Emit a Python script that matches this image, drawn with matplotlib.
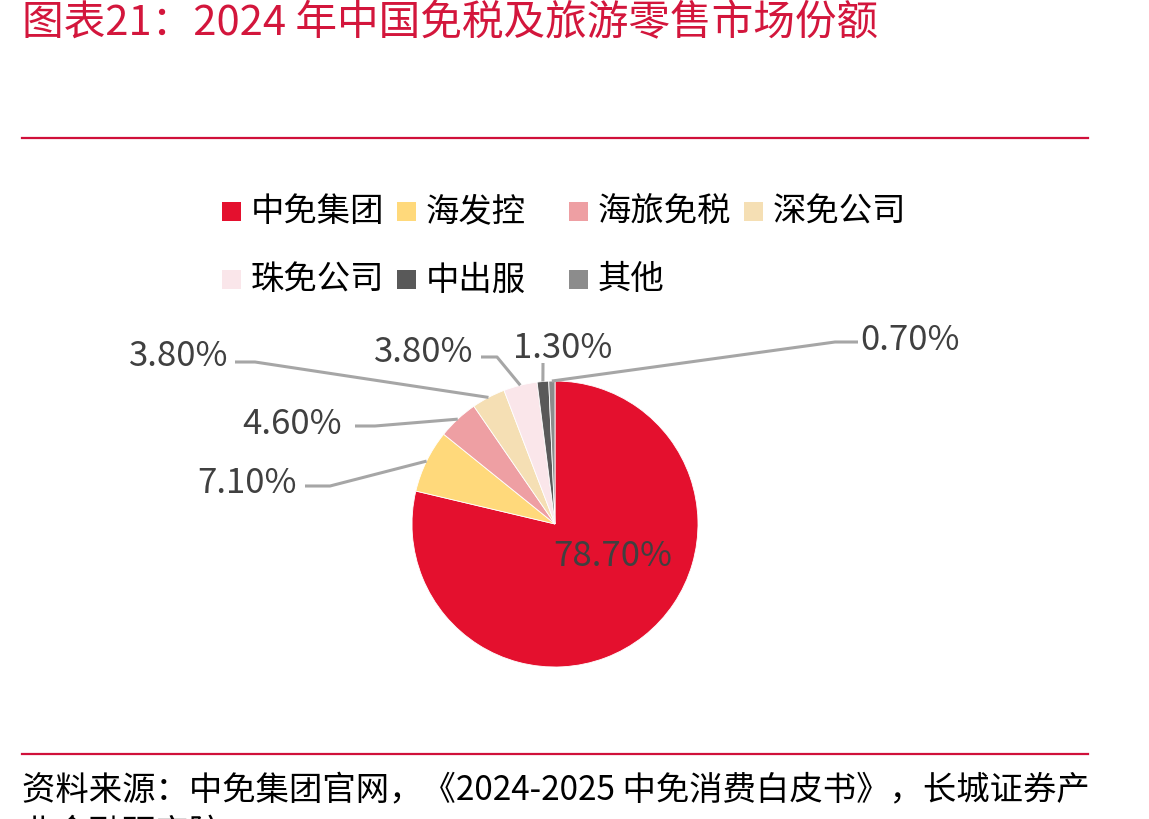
import matplotlib
matplotlib.use("Agg")
import matplotlib.pyplot as plt
from matplotlib.lines import Line2D
from matplotlib.patches import Rectangle
import numpy as np

categories = ["中免集团", "海发控", "海旅免税", "深免公司", "珠免公司", "中出服", "其他"]
values = [78.7, 7.1, 4.6, 3.8, 3.8, 1.3, 0.7]
colors = ["#E4102E", "#FFD97B", "#EE9FA3", "#F5DFB4", "#FAE6EA", "#595959", "#8C8C8C"]

title = "图表21：2024 年中国免税及旅游零售市场份额"
source_line1 = "资料来源：中免集团官网，《2024-2025 中免消费白皮书》，长城证券产"
source_line2 = "业金融研究院"

W, H = 1149, 820
CJK = ["Noto Sans CJK SC", "DejaVu Sans"]
plt.rcParams["font.family"] = CJK

fig = plt.figure(figsize=(W / 100, H / 100), dpi=100)


def fx(x):
    return x / W


def fy(y):
    return 1 - y / H


# title, rules, footer
fig.text(fx(22), fy(24), title, fontsize=30, color="#D3163C", va="center", ha="left")
for yy in (139, 755):
    fig.add_artist(Line2D([fx(22), fx(1088)], [fy(yy), fy(yy)], color="#D0103A", lw=1.6,
                          transform=fig.transFigure))
fig.text(fx(22), fy(790), source_line1, fontsize=24, color="black", va="center", ha="left")
fig.text(fx(22), fy(833), source_line2, fontsize=24, color="black", va="center", ha="left")

# legend (manual grid)
leg_pos = [(222, 212), (397, 212), (569, 212), (744, 212),
           (222, 280), (397, 280), (569, 280)]
sq = 19
for (lx, ly), cat, col in zip(leg_pos, categories, colors):
    fig.add_artist(Rectangle((fx(lx), fy(ly + sq / 2)), sq / W, sq / H, facecolor=col,
                             edgecolor="none", transform=fig.transFigure))
    fig.text(fx(lx + 29), fy(ly), cat, fontsize=24, color="black", va="center", ha="left")

# pie
cx, cy, r = 555, 525, 143
ax = fig.add_axes([fx(cx - r), fy(cy + r), 2 * r / W, 2 * r / H])
wedges, _ = ax.pie(values, colors=colors, startangle=90, counterclock=False,
                   wedgeprops=dict(linewidth=0.6, edgecolor="white"))
ax.set_xlim(-1, 1)
ax.set_ylim(-1, 1)
ax.set_aspect("equal")
ax.axis("off")

labels = [f"{v:.2f}%" for v in values]

# wedge mid-angle edge points (data -> figure)
cum = np.cumsum([0] + values[:-1])
mids = [c + v / 2 for c, v in zip(cum, values)]
edge_pts = []
for m in mids:
    ang = np.deg2rad(90 - m / 100 * 360)
    p = ax.transData.transform((np.cos(ang), np.sin(ang)))
    edge_pts.append(fig.transFigure.inverted().transform(p))

lbl_color = "#404040"
line_color = "#A6A6A6"
# layout for outside labels: text anchor (x, y, ha) and elbow points (pixels)
layout = {
    1: ((297, 484, "right"), [(305, 487), (330, 487)]),
    2: ((342, 425, "right"), [(355, 427), (375, 427)]),
    3: ((228, 357, "right"), [(235, 363), (255, 363)]),
    4: ((473, 353, "right"), [(481, 358), (497, 358)]),
    5: ((563, 349, "center"), [(543, 364)]),
    6: ((860, 341, "left"), [(858, 343), (835, 343)]),
}
for i, ((tx, ty, ha), pts) in layout.items():
    xs = [fx(p[0]) for p in pts] + [edge_pts[i][0]]
    ys = [fy(p[1]) for p in pts] + [edge_pts[i][1]]
    fig.add_artist(Line2D(xs, ys, color=line_color, lw=2.2, transform=fig.transFigure,
                          solid_capstyle="butt"))
    fig.text(fx(tx), fy(ty), labels[i], fontsize=25, color=lbl_color, ha=ha, va="center")

fig.text(fx(613), fy(557), labels[0], fontsize=25, color=lbl_color, ha="center", va="center")

fig.savefig("out.png", dpi=100, facecolor="white")
